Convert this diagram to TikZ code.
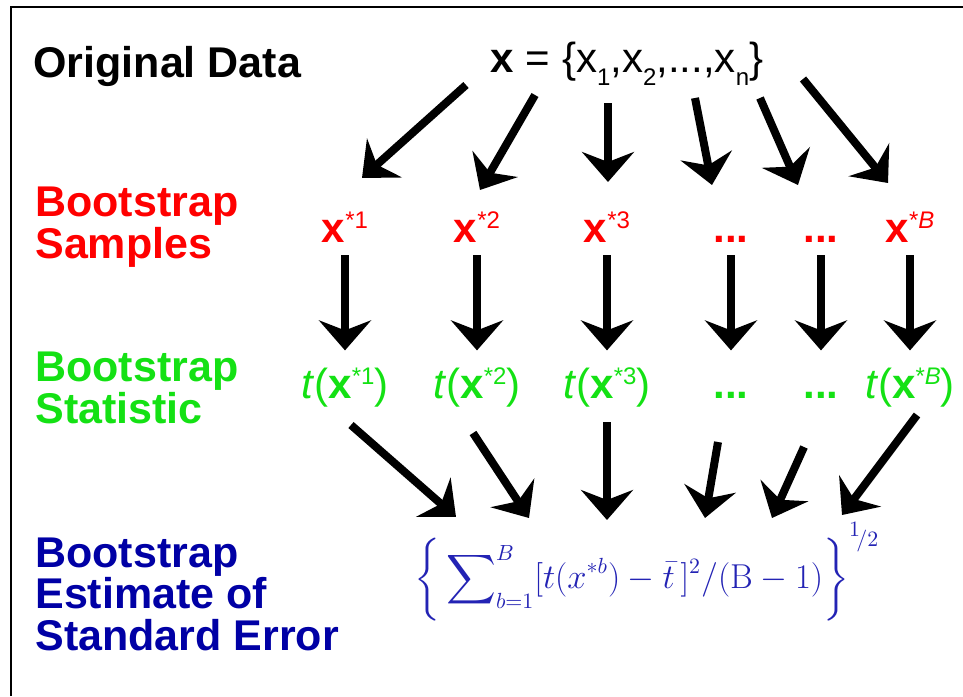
\documentclass[tikz,border=0pt]{standalone}
\usepackage{amsmath}
\usepackage[no-math]{fontspec}
\setmainfont{Liberation Sans}
\usetikzlibrary{positioning,arrows.meta}
\definecolor{smpred}{RGB}{255,0,0}
\definecolor{statgreen}{RGB}{20,225,20}
\definecolor{estblue}{RGB}{0,0,165}
\definecolor{formblue}{RGB}{35,35,180}
\newcommand{\upidx}[1]{\raisebox{7pt}{\fontsize{12}{12}\mdseries\upshape\selectfont #1}}
\newcommand{\dnidx}[1]{\raisebox{-6.5pt}{\fontsize{12}{12}\mdseries\selectfont #1}}
\tikzset{
  lbl/.style  = {font=\bfseries\fontsize{21.5}{20.75}\selectfont, align=left,
                 anchor=base west, inner sep=0pt},
  row/.style  = {font=\fontsize{21}{21}\selectfont, inner sep=0pt,
                 text height=16pt, text depth=5pt, anchor=base},
  samp/.style = {row, text=smpred},
  stat/.style = {row, text=statgreen},
  flow/.style = {-{Stealth[length=15pt, width=26pt, inset=5pt]}, line width=4pt, black},
}
\begin{document}
\begin{tikzpicture}[x=0.5pt, y=-0.5pt]
  \useasboundingbox (0,0) rectangle (963,696);
  \draw[line width=1pt] (10.5,696) |- (963,6.5);

  % row labels (base = last line)
  \node[lbl] (orig) at (33,77) {Original Data};
  \node[lbl, text=smpred] (lsamp) at (35,258) {Bootstrap\\Samples};
  \node[lbl, text=statgreen] (lstat) at (35,423) {Bootstrap\\Statistic};
  \node[lbl, text=estblue] (lest) at (35,650) {Bootstrap\\Estimate of\\Standard Error};

  \node[row, font=\fontsize{21}{21}\selectfont] (xset) at (627,72)
       {\textbf{x} = \{x\dnidx{1},x\dnidx{2},...,x\dnidx{n}\}};

  % samples and statistics
  \foreach \i/\cx/\st in {1/345/{\textbf{x}\upidx{*1}}, 2/477/{\textbf{x}\upidx{*2}},
                          3/607/{\textbf{x}\upidx{*3}}, 4/731/{\textbf{...}},
                          5/821/{\textbf{...}}, 6/910/{\textbf{x}\upidx{*\textit{B}}}} {
    \node[samp] (samp\i) at (\cx,242) {\st};
  }
  \foreach \i/\st in {1/{\textit{t}(\textbf{x}\upidx{*1})}, 2/{\textit{t}(\textbf{x}\upidx{*2})},
                      3/{\textit{t}(\textbf{x}\upidx{*3})}, 4/{\textbf{...}},
                      5/{\textbf{...}}, 6/{\textit{t}(\textbf{x}\upidx{*\textit{B}})}} {
    \node[stat, below=57pt of samp\i] (stat\i) {\st};
    \draw[flow, shorten <=1.5pt, shorten >=8pt] (samp\i.south) -- (stat\i.north);
  }

  \node[anchor=base west, inner sep=0pt, text=formblue, font=\fontsize{16}{18}\selectfont]
       (sefor) at (414,588)
       {$\bigg\{\displaystyle\sum\nolimits_{b=1}^{B}[t(x^{*b})-\bar{t}\,]^2/(\mathrm{B}-1)\bigg\}^{\raisebox{0.3em}{$\scriptstyle 1$}\!/2}$};

  % resampling arrows
  \foreach \n/\xa/\ya/\xb/\yb in {1/466/85/362/178, 2/535/95/480/190, 3/608/103/608/182,
                                  4/695/98/712/185, 5/760/98/798/185, 6/803/79/888/183} {
    \coordinate (rs\n) at (\xa,\ya);
    \coordinate (re\n) at (\xb,\yb);
    \draw[flow] (rs\n) -- (re\n);
  }
  % arrows into the estimate
  \foreach \n/\xa/\ya/\xb/\yb in {1/351/425/456/517, 2/473/433/529/518, 3/607/422/607/520,
                                  4/718/442/705/518, 5/804/447/772/518, 6/917/415/842/515} {
    \coordinate (es\n) at (\xa,\ya);
    \coordinate (ee\n) at (\xb,\yb);
    \draw[flow] (es\n) -- (ee\n);
  }
\end{tikzpicture}
\end{document}
